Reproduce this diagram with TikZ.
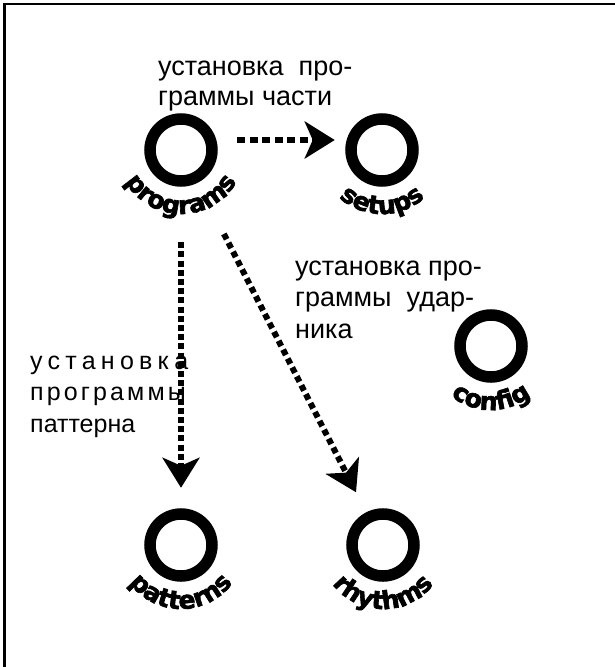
\documentclass[tikz,border=0pt]{standalone}
\usepackage{fontspec}
\setmainfont{Liberation Sans}
\newfontfamily\lblfont{DejaVu Sans}[BoldFeatures={FakeBold=2.5}]
\usetikzlibrary{arrows.meta,decorations.text,calc}
\begin{document}
\begin{tikzpicture}[x=1pt,y=1pt,
  ring/.style={circle, draw, line width=11.5pt, minimum size=62pt, inner sep=0pt},
  flow/.style={line width=6.5pt, -{Stealth[length=30pt,width=37pt,inset=8pt]}},
  txt/.style={inner sep=0pt, anchor=base west, align=left}
]
\clip (0,0) rectangle (615,-667);
\draw[line width=2.5pt] (4.5,-3.8) rectangle (700,-760);

\node[ring] (programs) at (181,-150) {};
\node[ring] (setups) at (382,-150) {};
\node[ring] (config) at (491,-346) {};
\node[ring] (patterns) at (181,-545) {};
\node[ring] (rhythms) at (383,-545) {};

\newcommand\arclabel[2]{%
  \path[decorate, decoration={text along path, text align=center,
    text={|\lblfont\bfseries\fontsize{25}{25}\selectfont|#2}}]
    ($(#1.center)+(190:64)$) arc[start angle=190, end angle=350, radius=64];}
\arclabel{programs}{programs}
\arclabel{setups}{setups}
\arclabel{config}{config}
\arclabel{patterns}{patterns}
\arclabel{rhythms}{rhythms}

\draw[flow, dash pattern=on 8pt off 4.5pt, shorten <=19.5pt, shorten >=10.5pt]
  ([yshift=10pt]programs.east) -- ([yshift=10pt]setups.west);
\draw[flow, dash pattern=on 6pt off 3.2pt, shorten <=55.5pt, shorten >=20.5pt]
  (programs.south) -- (patterns.north);
\draw[flow, line width=6pt, dash pattern=on 6pt off 4pt, shorten <=57.5pt, shorten >=22.5pt]
  (programs) -- (rhythms);

\node[txt, font=\fontsize{27}{30}\selectfont] (t1) at (158,-105)
  {установка\ \ про-\\граммы части};
\node[txt, font=\fontsize{27}{31.5}\selectfont] (t2) at (295,-338)
  {установка про-\\граммы\ \ удар-\\ника};
\node[txt, font=\fontsize{25}{31.5}\selectfont] (t3) at (30,-432)
  {{\addfontfeature{LetterSpace=21}установка}\\{\addfontfeature{LetterSpace=12.5}программы}\\паттерна};
\end{tikzpicture}
\end{document}
